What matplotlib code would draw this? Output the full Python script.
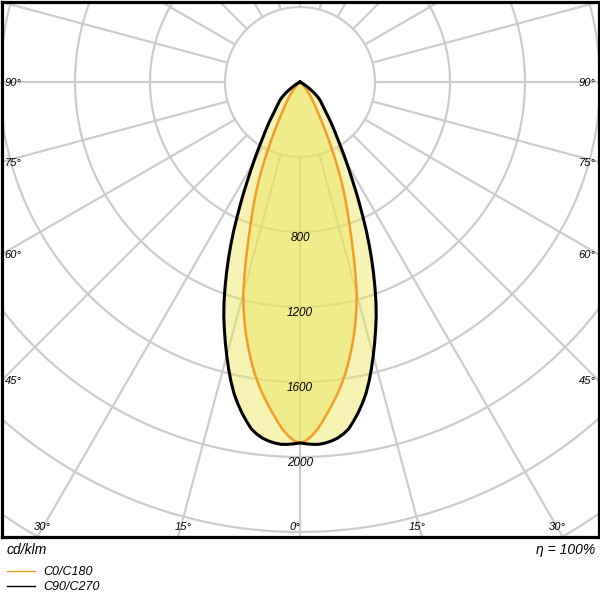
import numpy as np
import matplotlib
matplotlib.use("Agg")
import matplotlib.pyplot as plt

# ---- data (cd/klm) ----
gamma = list(range(0, 51)) + [52.5, 55, 57.5, 60, 62.5, 65, 70, 75, 80, 85, 90]
c0_c180 = [1925, 1912, 1885, 1850, 1805, 1760, 1715, 1668, 1618, 1565,
           1505, 1445, 1382, 1315, 1245, 1170, 1075, 985, 895, 815,
           745, 680, 615, 550, 485, 420, 365, 315, 270, 232,
           200, 175, 155, 138, 123, 110, 98, 87, 77, 68,
           60, 52, 45, 38, 32, 26, 21, 16, 12, 8,
           5, 0, 0, 0, 0, 0, 0, 0, 0, 0, 0, 0]
c90_c270 = [1925, 1930, 1934, 1935, 1930, 1922, 1910, 1892, 1868, 1830,
            1790, 1745, 1696, 1638, 1575, 1510, 1445, 1380, 1315, 1245,
            1170, 1095, 1020, 945, 870, 795, 725, 660, 598, 545,
            498, 455, 415, 380, 350, 325, 300, 280, 260, 240,
            222, 208, 195, 184, 174, 165, 157, 150, 143, 133,
            123, 95, 65, 38, 18, 6, 0, 0, 0, 0, 0, 0]
ring_values = [800, 1200, 1600, 2000]
angle_labels = [0, 15, 30, 45, 60, 75, 90]
series_names = ["C0/C180", "C90/C270"]
series_colors = ["#f39c2b", "#000000"]

# ---- figure geometry ----
W, H = 600, 600
fig = plt.figure(figsize=(6, 6), dpi=100)
top_px, bot_px, left_px, right_px = 1.5, 536.5, 1.5, 598.5
ax = fig.add_axes([left_px / W, 1 - bot_px / H, (right_px - left_px) / W,
                   (bot_px - top_px) / H])
s = 400 / 75.0  # cd per pixel
cy_px = 82.0
ax.set_xlim(-(300 - left_px) * s, (right_px - 300) * s)
ax.set_ylim(-(bot_px - cy_px) * s, (cy_px - top_px) * s)
ax.set_aspect("equal")
ax.set_xticks([])
ax.set_yticks([])
for sp in ax.spines.values():
    sp.set_linewidth(2.3)
    sp.set_color("black")
    sp.set_zorder(10)

grid_col = "#cccccc"
grid_lw = 1.6
t = np.linspace(0, 2 * np.pi, 721)
for r in range(400, 3600, 400):
    ax.plot(r * np.sin(t), r * np.cos(t), color=grid_col, lw=grid_lw, zorder=1)
for a in range(0, 360, 15):
    ar = np.deg2rad(a)
    ax.plot([400 * np.sin(ar), 5000 * np.sin(ar)],
            [-400 * np.cos(ar), -5000 * np.cos(ar)],
            color=grid_col, lw=grid_lw, zorder=1, solid_capstyle="butt")


def outline(vals):
    g = np.deg2rad(np.array(gamma, dtype=float))
    v = np.array(vals, dtype=float)
    gg = np.concatenate([-g[::-1], g[1:]])
    vv = np.concatenate([v[::-1], v[1:]])
    return vv * np.sin(gg), -vv * np.cos(gg)

fill_col = "#ece55a"
for vals in [c90_c270, c0_c180]:
    x, y = outline(vals)
    ax.fill(x, y, color=fill_col, alpha=0.45, lw=0, zorder=2)
for vals, col, lw in [(c0_c180, series_colors[0], 1.8), (c90_c270, series_colors[1], 2.2)]:
    x, y = outline(vals)
    ax.plot(x, y, color=col, lw=lw, zorder=3, solid_joinstyle="round")

font = dict(family="Liberation Sans", style="italic")
for rv in ring_values:
    ax.text(0, -rv - 6 * s, str(rv), ha="center", va="center", fontsize=8.5,
            zorder=5, **font)

# angle labels on the frame edges
xl, xr = ax.get_xlim()
yb, yt = ax.get_ylim()
for a in angle_labels:
    ar = np.deg2rad(a)
    if a >= 45:
        yy = -(xr) / np.tan(ar) if a != 90 else 0.0
        ax.text(xl + 3 * s, yy - 1 * s, f"{a}°", ha="left", va="center",
                fontsize=8, zorder=5, **font)
        ax.text(xr - 3 * s, yy - 1 * s, f"{a}°", ha="right", va="center",
                fontsize=8, zorder=5, **font)
    else:
        xx = -yb * np.tan(ar)
        for sign in ([1] if a == 0 else [-1, 1]):
            ax.text(sign * (xx - 5 * s), yb + 9 * s, f"{a}°", ha="center",
                    va="center", fontsize=8, zorder=5, **font)

# texts below
fig.text(7 / W, 1 - 550 / H, "cd/klm", ha="left", va="center", fontsize=10, **font)
fig.text(595 / W, 1 - 550 / H, "η = 100%", ha="right", va="center", fontsize=10, **font)
for i, (name, col) in enumerate(zip(series_names, series_colors)):
    yy = 1 - (571 + 15 * i) / H
    fig.add_artist(plt.Line2D([7 / W, 35 / W], [yy, yy], color=col, lw=1.0))
    fig.text(43 / W, yy - 1 / H, name, ha="left", va="center", fontsize=9, **font)

fig.savefig("out.png", dpi=100)
